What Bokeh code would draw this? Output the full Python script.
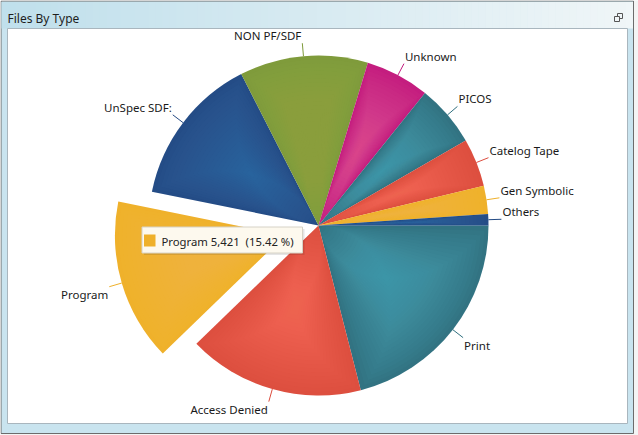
import numpy as np
from bokeh.plotting import figure
from bokeh.models import Range1d
from bokeh.embed import file_html
from bokeh.resources import INLINE
from bokeh.core.properties import value

# ---------------- data ----------------
title = "Files By Type"
categories = ["Print", "Access Denied", "Program", "UnSpec SDF:", "NON PF/SDF",
              "Unknown", "PICOS", "Catelog Tape", "Gen Symbolic", "Others"]
counts = [7380, 5890, 5421, 5029, 4287, 2139, 2070, 1611, 937, 381]
exploded_category = "Program"
tooltip_category = "Program"

# ---------------- style ----------------
palette_base = ["#31707f", "#dc4d3e", "#efb02a", "#234a84", "#7e9a3a", "#c21a7e"]
palette_light = ["#57b4c9", "#f77a66", "#f8c64a", "#3f6eaa", "#9bb655", "#e35fa3"]
FONT = value("Noto Sans")
FS = "11.5px"

W, H = 638, 435
OX, OY = 0, 0


def sx(X):
    return X - OX


def sy(Y):
    return (H + OY) - Y


p = figure(width=W, height=H, x_range=Range1d(0, W), y_range=Range1d(0, H),
           output_backend="svg", toolbar_location=None, min_border=0,
           x_axis_location=None, y_axis_location=None,
           outline_line_color=None,
           background_fill_color="#f4f4f4", border_fill_color="#f4f4f4")
p.grid.visible = False

# outer window frame
p.quad(left=[sx(0.5)], right=[sx(633)], top=[sy(0.5)], bottom=[sy(433)],
       fill_color="#c9e4ef", line_color="#6c6c6c", line_width=1)

# header gradient strips
n = 90
c0 = np.array([192, 224, 236])
c1 = np.array([240, 246, 248])
xs = np.linspace(1, 632, n + 1)
cols = []
for k in range(n):
    t = k / (n - 1)
    c = (c0 * (1 - t) + c1 * t).astype(int)
    cols.append("#%02x%02x%02x" % tuple(c))
p.quad(left=[sx(v) for v in xs[:-1]], right=[sx(v) + 0.5 for v in xs[1:]],
       top=[sy(1.5)] * n, bottom=[sy(28)] * n,
       fill_color=cols, line_color=None)
p.text(x=[sx(7)], y=[sy(18)], text=[title], text_baseline="middle",
       text_font=FONT, text_font_size="12px", text_color="#1e1e1e")
# restore icon
p.quad(left=[sx(617)], right=[sx(622)], top=[sy(13)], bottom=[sy(18)],
       fill_color=None, line_color="#555555", line_width=1)
p.quad(left=[sx(614)], right=[sx(619)], top=[sy(16)], bottom=[sy(21)],
       fill_color="#f0f5f7", line_color="#555555", line_width=1)

# inner white panel
p.quad(left=[sx(7)], right=[sx(627)], top=[sy(28)], bottom=[sy(423)],
       fill_color="white", line_color="#a9b6be", line_width=1)

# ---------------- pie ----------------
total = float(sum(counts))
frac = np.array(counts) / total
ang = frac * 2 * np.pi
cum_end = np.cumsum(ang)
cum_start = cum_end - ang
mid = (cum_start + cum_end) / 2

cx, cy = sx(318), sy(225)
R = 170
explode = 35
r1 = R + 13
N = 22
rc = 0.5 * R

for i, cat in enumerate(categories):
    d = explode if cat == exploded_category else 0
    a = -mid[i]
    dx, dy = np.cos(a), np.sin(a)
    ox, oy = cx + d * dx, cy + d * dy
    base = palette_base[i % len(palette_base)]
    light = palette_light[i % len(palette_light)]
    p.wedge(x=[ox], y=[oy], radius=R, start_angle=[-cum_end[i]],
            end_angle=[-cum_start[i]], direction="anticlock",
            fill_color=base, line_color=None)
    for k in range(N):
        f = 1 - k / N
        p.annular_wedge(x=[ox], y=[oy], inner_radius=rc * (1 - f),
                        outer_radius=rc + f * (R - rc),
                        start_angle=[a - f * ang[i] / 2],
                        end_angle=[a + f * ang[i] / 2],
                        direction="anticlock",
                        fill_color=light, fill_alpha=0.05, line_color=None)
    # leader line + label
    x0, y0 = ox + R * dx, oy + R * dy
    x1, y1 = ox + r1 * dx, oy + r1 * dy
    p.segment(x0=[x0], y0=[y0], x1=[x1], y1=[y1], line_color=base, line_width=1)
    align = "left" if dx >= 0 else "right"
    baseline = "top" if dy < 0 else "bottom"
    p.text(x=[x1 + (1 if dx >= 0 else -1)], y=[y1], text=[cat],
           text_align=align, text_baseline=baseline,
           text_font=FONT, text_font_size=FS, text_color="#1a1a1a")

# ---------------- tooltip ----------------
ti = categories.index(tooltip_category)
tip_text = f"{categories[ti]} {counts[ti]:,}\u00a0 ({frac[ti] * 100:.2f} %)"
p.quad(left=[sx(143.5)], right=[sx(304)], top=[sy(228.5)], bottom=[sy(254.5)],
       fill_color="#000000", fill_alpha=0.10, line_color=None)
p.quad(left=[sx(141.5)], right=[sx(302)], top=[sy(226.5)], bottom=[sy(252.5)],
       fill_color="#fdf9ee", line_color="#d6d2c6", line_width=1)
p.quad(left=[sx(143.5)], right=[sx(155)], top=[sy(234)], bottom=[sy(246)],
       fill_color=palette_base[ti % len(palette_base)], line_color=None)
p.text(x=[sx(161)], y=[sy(240.5)], text=[tip_text], text_baseline="middle",
       text_font=FONT, text_font_size="11.3px", text_color="#222222")

open("out.html", "w").write(file_html(p, INLINE))
